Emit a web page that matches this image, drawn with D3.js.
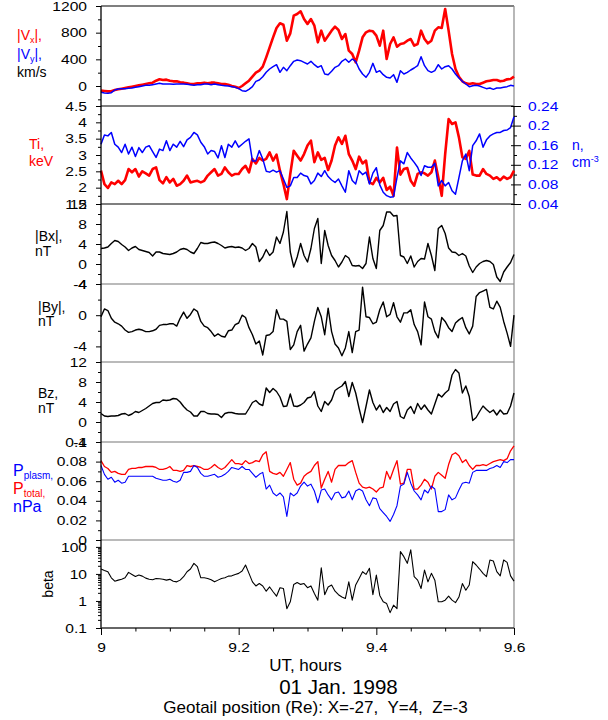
<!DOCTYPE html>
<html><head><meta charset="utf-8">
<script src="https://cdn.jsdelivr.net/npm/d3@7"></script>
<style>body{margin:0;background:#fff}</style>
</head><body>
<svg id="c" width="608" height="720"></svg>
<script>
// ---------- data ----------
const tStart = 9, tStep = 0.005, nPts = 121;
const time = d3.range(nPts).map(i => +(tStart + i * tStep).toFixed(3));

const vx = [-70,-75,-80,-80,-60,-50,-40,-30,-20,-10,
  0,10,20,30,40,50,80,100,90,95,
  80,70,70,55,50,40,30,30,40,40,
  50,40,50,50,40,30,30,20,0,-10,
  -30,0,40,80,140,200,230,290,430,580,
  730,870,940,920,680,790,1055,1080,1120,1005,
  930,1005,905,655,830,680,755,830,890,840,
  705,780,530,480,355,530,730,805,830,820,
  755,605,830,405,630,730,590,630,640,680,
  705,605,630,830,705,640,680,830,880,870,
  1155,830,480,255,140,70,40,30,40,30,
  30,50,70,80,90,90,70,80,100,105,140];
const vy = [-95,-105,-110,-100,-60,-45,-40,-40,-35,-30,
  -20,-10,0,10,10,20,30,40,30,30,
  30,25,30,30,30,25,20,10,20,20,
  30,30,20,30,20,10,5,0,-10,-20,
  -40,-70,-80,-50,-10,70,90,140,205,255,
  290,320,205,280,230,305,370,390,380,355,
  330,370,320,280,305,180,170,220,280,305,
  370,405,355,405,370,255,180,130,205,340,
  205,230,170,130,120,170,55,230,180,205,
  240,270,305,440,305,230,205,230,320,255,
  290,305,255,180,120,70,30,-10,5,10,
  0,-20,-40,-30,-50,-30,-30,-20,-10,10,0];
const ti = [2.52,2.11,1.99,2.16,2.11,2.21,2.11,2.23,2.57,2.47,
  2.57,2.34,2.50,2.44,2.37,2.57,2.62,2.23,2.13,2.32,
  2.16,2.27,2.06,2.11,2.21,2.37,2.16,2.19,2.21,2.16,
  2.21,2.37,2.47,2.57,2.37,2.42,2.62,2.47,2.37,2.42,
  2.42,2.57,2.67,2.47,2.88,2.74,2.91,2.83,2.88,3.08,
  2.83,3.01,2.52,2.11,1.65,2.42,3.13,2.98,2.83,3.03,
  3.29,3.44,2.78,3.08,2.85,2.91,2.54,2.83,3.29,3.54,
  3.34,3.59,3.03,2.83,2.57,2.95,2.74,2.83,2.16,2.11,
  2.30,2.16,2.30,1.93,2.03,1.75,3.23,2.40,2.57,2.60,
  2.21,2.06,2.42,2.47,2.44,2.37,2.47,2.83,2.32,1.75,
  3.03,4.10,3.95,4.00,3.54,2.93,2.88,3.13,2.40,2.37,
  2.37,2.57,2.42,2.37,2.27,2.32,2.23,2.34,2.27,2.32,2.52];
const dens = [0.162,0.181,0.179,0.186,0.162,0.156,0.145,0.162,0.142,0.156,
  0.137,0.155,0.145,0.156,0.159,0.147,0.135,0.152,0.149,0.169,
  0.149,0.162,0.156,0.168,0.157,0.171,0.176,0.186,0.181,0.166,
  0.157,0.142,0.149,0.147,0.134,0.159,0.135,0.162,0.156,0.169,
  0.156,0.162,0.168,0.173,0.128,0.128,0.149,0.132,0.107,0.105,
  0.109,0.105,0.108,0.091,0.074,0.077,0.094,0.094,0.103,0.098,
  0.096,0.081,0.088,0.103,0.096,0.108,0.096,0.089,0.084,0.091,
  0.077,0.064,0.108,0.088,0.081,0.108,0.100,0.105,0.081,0.103,
  0.114,0.079,0.064,0.057,0.054,0.055,0.094,0.128,0.122,0.145,
  0.134,0.125,0.115,0.098,0.118,0.115,0.115,0.123,0.077,0.088,
  0.077,0.084,0.067,0.060,0.094,0.128,0.142,0.108,0.159,0.169,
  0.183,0.156,0.171,0.179,0.183,0.186,0.186,0.190,0.191,0.196,0.218];
const bx = [3.1,3.2,3.4,4.1,4.7,4.5,3.9,3.4,2.7,3.2,
  3.5,2.9,2.7,2.5,2.3,1.6,2.4,2.4,2.1,2.0,
  1.9,2.1,2.4,2.9,3.1,2.9,2.4,2.1,3.1,4.3,
  4.1,4.1,4.3,4.4,4.1,3.7,3.2,3.4,3.5,3.3,
  3.4,3.2,2.7,3.1,4.1,3.4,0.5,1.4,2.9,1.7,
  2.4,5.4,4.1,6.4,10.5,2.4,-0.6,1.4,4.1,1.7,
  0.4,3.1,7.1,9.1,0.1,6.7,3.7,1.7,0.7,-0.6,
  0.4,1.7,1.2,-0.3,-0.4,-0.3,-0.9,0.1,5.4,1.1,
  -0.9,6.7,7.7,10.4,10.4,9.6,9.7,1.7,1.4,0.1,
  1.6,-0.6,0.5,1.1,1.0,4.1,1.7,-1.3,7.1,7.7,
  6.1,3.2,2.4,2.3,1.7,2.1,1.6,-0.4,-1.7,-0.6,
  0.1,0.5,0.7,0.5,-0.1,-2.6,-3.5,-1.6,-0.6,0.3,1.9];
const by = [-0.2,0.8,0.6,-0.4,-0.9,-1.1,-1.4,-1.9,-2.2,-2.1,
  -1.9,-1.8,-1.9,-2.1,-2.1,-2.0,-1.8,-1.3,-1.2,-1.2,
  -1.1,-1.1,-1.4,-0.4,0.4,-0.4,0.1,0.8,0.5,-0.8,
  -1.4,-1.6,-2.1,-2.7,-2.4,-2.7,-2.8,-2.0,-1.9,-1.2,
  -1.0,0.0,-0.3,-1.6,-2.5,-3.7,-3.3,-5.1,-2.6,-2.5,
  -2.1,0.7,-0.5,-0.5,-0.8,-4.4,-3.8,-2.1,-1.3,-4.6,
  -3.7,-2.9,-0.8,1.0,-0.2,-2.5,0.9,-2.1,-3.7,-4.2,
  -5.2,-4.2,-2.1,-4.8,-2.1,-1.9,3.6,-0.2,-0.3,-1.1,
  -0.9,0.7,1.7,-0.2,0.1,1.6,-0.2,-0.9,0.3,0.3,
  0.7,-1.2,-2.1,-3.8,1.7,-0.2,-0.5,-2.1,-2.9,-0.3,
  -0.8,-1.6,-2.1,-1.0,-0.6,-0.3,-1.6,-2.4,-1.4,2.4,
  2.9,3.1,3.3,1.0,0.8,1.8,1.0,-0.8,-2.3,-4.0,0.0];
const bz = [1.7,1.2,1.1,1.2,1.2,1.3,1.6,1.7,1.3,1.6,
  2.1,1.9,2.3,2.7,3.2,3.7,3.9,3.9,4.4,4.3,
  4.4,4.7,4.6,4.0,3.1,2.4,2.0,1.2,1.2,2.1,
  2.1,1.7,1.6,1.6,1.5,0.9,1.7,1.9,1.9,1.7,
  1.6,1.6,1.6,2.7,3.9,4.3,3.6,3.3,6.8,5.9,
  6.7,6.1,5.0,3.1,3.2,5.6,3.2,3.1,3.4,3.9,
  4.8,5.0,6.1,3.2,2.1,4.1,3.4,4.4,6.3,6.8,
  7.2,8.1,5.1,7.9,5.8,2.7,-0.1,3.1,6.4,3.9,
  2.4,3.4,1.9,2.9,2.1,3.6,4.1,1.1,0.7,2.4,
  3.1,1.7,3.7,2.5,3.4,2.4,1.6,3.6,5.6,5.0,
  5.8,6.4,9.4,10.5,9.8,5.8,7.2,5.1,0.3,0.9,
  2.1,3.2,2.5,1.9,2.4,1.4,2.4,1.6,1.7,3.2,5.8];
const pTotal = [.081,.075,.073,.069,.070,.068,.067,.067,.072,.073,
  .073,.074,.074,.075,.075,.075,.074,.072,.072,.073,
  .075,.071,.071,.070,.071,.076,.075,.076,.075,.074,
  .072,.072,.074,.077,.074,.072,.074,.078,.082,.078,
  .078,.077,.081,.078,.079,.081,.080,.087,.090,.070,
  .068,.067,.069,.065,.072,.079,.062,.056,.058,.065,
  .068,.070,.076,.080,.053,.062,.070,.059,.072,.076,
  .076,.076,.079,.081,.069,.058,.054,.053,.054,.052,
  .049,.053,.054,.070,.062,.072,.081,.057,.058,.072,
  .072,.052,.052,.056,.062,.059,.052,.065,.069,.066,
  .063,.077,.087,.089,.086,.079,.082,.076,.072,.076,
  .076,.077,.076,.078,.080,.081,.082,.081,.083,.091,.096];
const pPlasma = [.076,.067,.062,.064,.059,.061,.058,.059,.065,.065,
  .065,.065,.065,.065,.065,.065,.063,.062,.061,.061,
  .062,.060,.059,.061,.069,.069,.070,.076,.074,.068,
  .065,.065,.066,.067,.064,.065,.067,.070,.074,.073,
  .072,.075,.072,.072,.068,.064,.067,.069,.052,.056,
  .048,.045,.048,.044,.024,.048,.045,.048,.055,.059,
  .055,.057,.050,.038,.051,.052,.046,.041,.048,.049,
  .043,.044,.050,.041,.050,.052,.050,.041,.035,.043,
  .042,.032,.028,.024,.019,.026,.035,.055,.057,.069,
  .058,.050,.046,.041,.051,.048,.055,.052,.029,.029,
  .031,.046,.041,.043,.051,.058,.059,.058,.069,.071,
  .071,.071,.071,.073,.074,.076,.074,.080,.079,.082,.082];
const beta = [15.2,13.5,12.1,7.2,5.4,5.9,6.4,7.2,11.4,9.6,
  8.1,9.1,8.3,7.0,6.4,6.1,6.8,6.6,6.4,5.9,
  6.3,5.4,5.1,5.9,7.9,12.1,15.2,24.6,18.5,7.2,
  7.2,6.8,6.1,5.1,5.9,6.8,7.2,8.3,8.5,9.6,
  10.5,12.8,21.4,10.5,5.1,3.6,4.4,3.6,2.3,3.3,
  2.2,1.5,3.1,2.9,0.52,0.93,4.1,4.8,4.1,4.4,
  3.1,3.6,1.9,1.07,17.0,1.7,3.3,3.9,2.3,1.7,
  1.4,1.23,5.1,1.07,3.9,6.8,12.1,9.6,16.1,1.7,
  9.1,1.6,0.93,0.80,0.37,0.70,0.52,66.8,43.5,24.6,
  78,7.9,5.9,2.9,13.9,5.1,10.5,5.9,0.93,0.93,
  1.07,1.5,1.07,0.87,1.4,4.4,2.5,3.9,28.4,21.4,
  15.2,10.5,7.9,32.8,30.1,12.1,8.5,32.8,26.8,8.5,5.4];

// tick values
const xMajor = [9, 9.2, 9.4, 9.6];
const xMinor = [9.05, 9.1, 9.15, 9.25, 9.3, 9.35, 9.45, 9.5, 9.55];
const vMajor = [0, 400, 800, 1200], vMinor = [-200, 200, 600, 1000];
const tiMajor = [1.5, 2, 2.5, 3, 3.5, 4, 4.5], tiMinor = [1.75, 2.25, 2.75, 3.25, 3.75, 4.25];
const nMajor = [0.04, 0.08, 0.12, 0.16, 0.2, 0.24], nMinor = [0.06, 0.1, 0.14, 0.18, 0.22];
const bxMajor = [-4, 0, 4, 8, 12], bxMinor = [-2, 2, 6, 10];
const byMajor = [-4, 0, 4], byMinor = [-6, -2, 2];
const bzMajor = [-4, 0, 4, 8, 12], bzMinor = [-2, 2, 6, 10];
const pMajor = [0, 0.02, 0.04, 0.06, 0.08, 0.1], pMinor = [0.01, 0.03, 0.05, 0.07, 0.09];
const betaMajor = [0.1, 1, 10, 100];
const betaMinor = [0.2,0.3,0.4,0.5,0.6,0.7,0.8,0.9,2,3,4,5,6,7,8,9,20,30,40,50,60,70,80,90];

// ---------- layout ----------
const X0 = 101, X1 = 514, YB = 628;
const FONT = "'Liberation Sans', Arial, Helvetica, sans-serif";
const SX = 1.2;
const RED = '#ff0000', BLUE = '#0000ff';
const svg = d3.select('#c').attr('font-family', FONT);

const x = d3.scaleLinear().domain([9, 9.6]).range([X0, X1]);
const yV = d3.scaleLinear().domain([-300, 1200]).range([106, 6]);
const yTi = d3.scaleLinear().domain([1.5, 4.5]).range([204, 106]);
const yN = d3.scaleLinear().domain([0.04, 0.24]).range([204, 106]);
const yBx = d3.scaleLinear().domain([-4, 12]).range([284, 204]);
const yBy = d3.scaleLinear().domain([-6, 4]).range([362, 284]);
const yBz = d3.scaleLinear().domain([-4, 12]).range([442, 362]);
const yP = d3.scaleLinear().domain([0, 0.1]).range([540, 442]);
const yBeta = d3.scaleLog().domain([0.1, 180]).range([YB, 540]);

// panel frames
const sep = [[6,'#000'],[106,'#000'],[204,'#000'],[284,'#777'],[362,'#777'],[442,'#777'],[540,'#777']];
sep.forEach(([yy, c]) => svg.append('line').attr('x1', X0).attr('x2', X1).attr('y1', yy).attr('y2', yy)
  .attr('stroke', c).attr('stroke-width', 1.2));
svg.append('line').attr('x1', X1).attr('x2', X1).attr('y1', 6).attr('y2', YB).attr('stroke', '#888').attr('stroke-width', 1.2);
svg.append('line').attr('x1', X1).attr('x2', X1).attr('y1', 106).attr('y2', 204).attr('stroke', '#444').attr('stroke-width', 1.5);

// lines
function drawLine(vals, scale, color, w) {
  svg.append('path').datum(vals).attr('fill', 'none').attr('stroke', color)
    .attr('stroke-width', w).attr('stroke-linejoin', 'round')
    .attr('d', d3.line().x((d, i) => x(time[i])).y(d => scale(d)));
}
drawLine(vx, yV, RED, 2.6);
drawLine(vy, yV, BLUE, 1.5);
drawLine(ti, yTi, RED, 2.6);
drawLine(dens, yN, BLUE, 1.5);
drawLine(bx, yBx, '#000', 1.4);
drawLine(by, yBy, '#000', 1.4);
drawLine(bz, yBz, '#000', 1.4);
drawLine(pTotal, yP, RED, 1.3);
drawLine(pPlasma, yP, BLUE, 1.1);
drawLine(beta, yBeta, '#000', 1.1);

// axes
function styleText(sel, xoff) {
  sel.selectAll('text').attr('font-size', 13).attr('font-family', FONT).attr('fill', '#000')
    .attr('x', xoff / SX).attr('transform', `scale(${SX},1)`);
}
function yAxis(scale, majors, minors, fmt) {
  const g = svg.append('g').attr('transform', `translate(${X0},0)`);
  const gmin = g.append('g').call(d3.axisLeft(scale).tickValues(minors).tickSize(3).tickFormat(''));
  gmin.select('.domain').remove();
  const gm = g.append('g').call(d3.axisLeft(scale).tickValues(majors).tickSize(5).tickPadding(9)
    .tickFormat(fmt || (d => String(d))));
  gm.select('.domain').remove();
  styleText(gm, -14);
}
yAxis(yV, vMajor, vMinor);
yAxis(yTi, tiMajor, tiMinor);
yAxis(yBx, bxMajor, bxMinor);
yAxis(yBy, byMajor, byMinor);
yAxis(yBz, bzMajor, bzMinor);
yAxis(yP, pMajor, pMinor);
yAxis(yBeta, betaMajor, betaMinor);

// right density axis
{
  const g = svg.append('g').attr('transform', `translate(${X1},0)`);
  const gmin = g.append('g').call(d3.axisRight(yN).tickValues(nMinor).tickSize(3).tickFormat(''));
  gmin.select('.domain').remove();
  const gm = g.append('g').call(d3.axisRight(yN).tickValues(nMajor).tickSize(7).tickPadding(7)
    .tickFormat(d => String(d)));
  gm.select('.domain').remove();
  gm.selectAll('line').attr('x1', -3);
  gm.selectAll('text').attr('font-size', 13).attr('fill', BLUE)
    .attr('x', 14 / SX).attr('transform', `scale(${SX},1)`);
  g.selectAll('line').attr('stroke', '#000');
}

// left axis line and bottom axis
svg.append('line').attr('x1', X0).attr('x2', X0).attr('y1', 6).attr('y2', YB).attr('stroke', '#000').attr('stroke-width', 1.3);
svg.append('line').attr('x1', X0).attr('x2', X1).attr('y1', YB).attr('y2', YB).attr('stroke', '#333').attr('stroke-width', 1.3);
{
  const g = svg.append('g').attr('transform', `translate(0,${YB})`);
  const gmin = g.append('g').call(d3.axisBottom(x).tickValues(xMinor).tickSize(3.5).tickFormat(''));
  gmin.select('.domain').remove();
  const gm = g.append('g').call(d3.axisBottom(x).tickValues(xMajor).tickSize(7).tickPadding(8)
    .tickFormat(d => String(d)));
  gm.select('.domain').remove();
  gm.selectAll('text').attr('font-size', 13).attr('fill', '#000').attr('transform', `scale(${SX},1)`)
    .attr('x', 0);
  g.selectAll('.tick').each(function () {
    const t = d3.select(this).attr('transform');
    const m = /translate\(([-\d.]+),/.exec(t);
    if (m) d3.select(this).select('text').attr('x', 0);
  });
}

// ---------- labels ----------
function label(xx, yy, color, size, parts) {
  const t = svg.append('text').attr('x', xx).attr('y', yy).attr('fill', color).attr('font-size', size)
    .style('white-space', 'pre');
  parts.forEach(p => {
    const s = t.append('tspan').text(p.t);
    if (p.size) s.attr('font-size', p.size);
    if (p.dy) s.attr('dy', p.dy);
    if (p.fill) s.attr('fill', p.fill);
  });
  return t;
}
label(17, 40, RED, 14, [{t: '|V'}, {t: 'x', size: 9, dy: 3}, {t: '|,', dy: -3}]);
label(17, 59, BLUE, 14, [{t: '|V'}, {t: 'y', size: 9, dy: 3}, {t: '|,', dy: -3}]);
label(17, 77, '#000', 14, [{t: 'km/s'}]);
label(29, 149, RED, 14, [{t: 'Ti,'}]);
label(29, 166, RED, 14, [{t: 'keV'}]);
label(572, 150, BLUE, 14, [{t: 'n,'}]);
label(572, 167, BLUE, 14, [{t: 'cm'}, {t: '-3', size: 9, dy: -5}]);
label(35, 241, '#000', 14, [{t: '|Bx|,'}]);
label(35, 256, '#000', 14, [{t: 'nT'}]);
label(38, 312, '#000', 14, [{t: '|By|,'}]);
label(38, 326, '#000', 14, [{t: 'nT'}]);
label(38, 398, '#000', 14, [{t: 'Bz,'}]);
label(38, 413, '#000', 14, [{t: 'nT'}]);
label(13, 476, BLUE, 16, [{t: 'P'}, {t: 'plasm,', size: 10, dy: 3}]);
label(13, 494, RED, 16, [{t: 'P'}, {t: 'total,', size: 10, dy: 3}]);
label(13, 512, BLUE, 16, [{t: 'nPa'}]);
svg.append('text').attr('transform', 'translate(53,584) rotate(-90)').attr('text-anchor', 'middle')
  .attr('font-size', 14).attr('fill', '#000').text('beta');

svg.append('text').attr('x', 305.5).attr('y', 671).attr('text-anchor', 'middle').attr('font-size', 17).text('UT, hours');
svg.append('text').attr('x', 338.5).attr('y', 694).attr('text-anchor', 'middle').attr('font-size', 20.5).text('01 Jan. 1998');
svg.append('text').attr('x', 315.5).attr('y', 713).attr('text-anchor', 'middle').attr('font-size', 17)
  .style('white-space', 'pre').text('Geotail position (Re): X=-27,  Y=4,  Z=-3');
</script>
</body></html>
